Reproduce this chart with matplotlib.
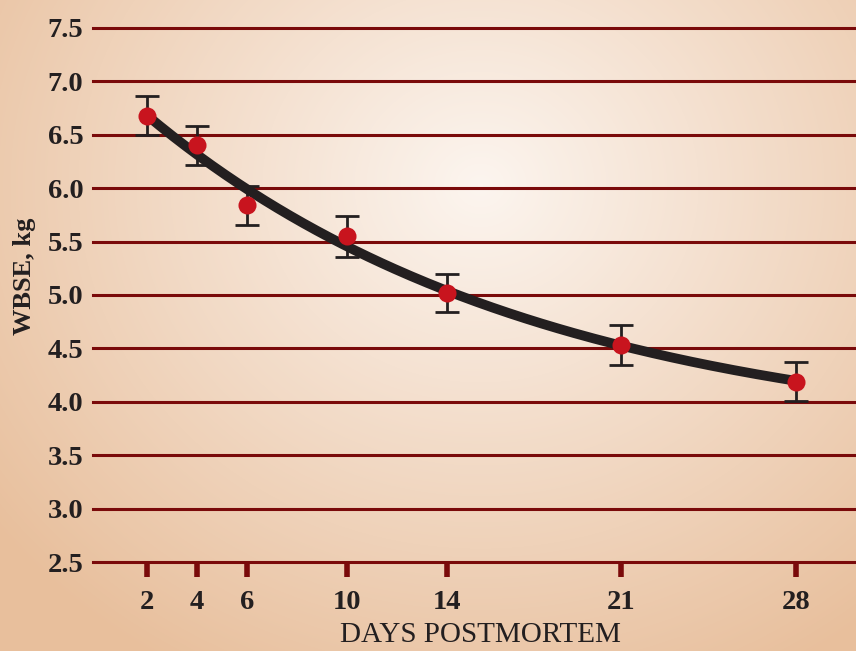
import numpy as np
import matplotlib
matplotlib.use("Agg")
import matplotlib.pyplot as plt
from matplotlib.colors import LinearSegmentedColormap

# Warner-Bratzler shear force by days of postmortem ageing
days = [2, 4, 6, 10, 14, 21, 28]
wbse = [6.68, 6.40, 5.84, 5.55, 5.02, 4.53, 4.19]
se = [0.18, 0.18, 0.18, 0.19, 0.18, 0.185, 0.185]
y_ticks = [2.5, 3.0, 3.5, 4.0, 4.5, 5.0, 5.5, 6.0, 6.5, 7.0, 7.5]
x_ticks = [2, 4, 6, 10, 14, 21, 28]

W, H = 856, 651
fig = plt.figure(figsize=(W / 100, H / 100), dpi=100)

# radial background: pale centre fading to peach edges
bg = fig.add_axes([0, 0, 1, 1])
yy, xx = np.mgrid[0:H, 0:W]
r = np.sqrt(((xx - 480) / 620.0) ** 2 + ((yy - 185) / 560.0) ** 2)
r = np.clip(r, 0, 1)
cmap = LinearSegmentedColormap.from_list(
    "peach", [(0.0, "#fcf5ef"), (0.35, "#f5e2d2"), (1.0, "#e8bf9c")])
bg.imshow(r, cmap=cmap, vmin=0, vmax=1, aspect="auto", interpolation="bilinear")
bg.set_axis_off()

ax = fig.add_axes([93 / W, (H - 562) / H, (W - 93) / W, (562 - 28) / H])
ax.patch.set_alpha(0)
ax.set_xlim(-0.16, 30.4)
ax.set_ylim(2.5, 7.5)
for s in ax.spines.values():
    s.set_visible(False)

grid_col = "#7a0a0a"
text_col = "#231f20"
serif = "Liberation Serif"
for v in y_ticks:
    ax.axhline(v, color=grid_col, lw=2.2, clip_on=False, zorder=1)

ax.set_yticks(y_ticks)
ax.set_yticklabels([f"{v:.1f}" for v in y_ticks])
ax.tick_params(axis="y", length=0, pad=7)
ax.set_xticks(x_ticks)
ax.set_xticklabels([str(d) for d in x_ticks])
ax.tick_params(axis="x", length=11, width=4, color=grid_col, pad=9, direction="out")

for lab in ax.get_yticklabels() + ax.get_xticklabels():
    lab.set_fontfamily(serif)
    lab.set_fontsize(20.5)
    lab.set_fontweight("bold")
    lab.set_color(text_col)

ax.set_xlabel("DAYS POSTMORTEM", fontfamily=serif, fontsize=21, color=text_col)
ax.xaxis.set_label_coords(0.508, -0.112)
fig.text(25 / W, 1 - 276 / H, "WBSE, kg", rotation=90, ha="center", va="center",
         fontfamily=serif, fontsize=19, fontweight="bold", color=text_col)

# error bars
ax.errorbar(days, wbse, yerr=se, fmt="none", ecolor=text_col, elinewidth=2.0,
            capsize=8.6, capthick=2.0, zorder=3)

# exponential-decay trend fitted to the means: y = c + a*exp(-k*x)
d = np.asarray(days, float)
w = np.asarray(wbse, float)
best = None
for k in np.linspace(0.005, 0.3, 600):
    A = np.column_stack([np.ones_like(d), np.exp(-k * d)])
    sol, *_ = np.linalg.lstsq(A, w, rcond=None)
    err = np.sum((A @ sol - w) ** 2)
    if best is None or err < best[0]:
        best = (err, k, sol)
_, k, (c, a) = best
xs = np.linspace(days[0], days[-1], 200)
ax.plot(xs, c + a * np.exp(-k * xs), color=text_col, lw=7,
        solid_capstyle="butt", zorder=4)

ax.plot(days, wbse, "o", color="#c8141e", markersize=13, markeredgewidth=0, zorder=5)

fig.savefig("out.png", dpi=100)
